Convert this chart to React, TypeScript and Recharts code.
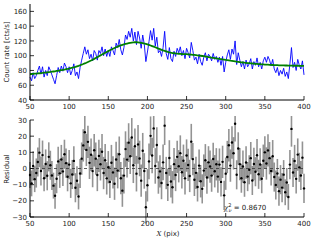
import { ComposedChart, Line, XAxis, YAxis, Scatter, ErrorBar, ReferenceLine } from 'recharts';

// pixel grid of the spectrum (one sample every 2 pix)
const pix = Array.from({ length: 176 }, (_, i) => 50 + 2 * i);

const counts = [
  71, 66, 77, 69, 73, 80, 86, 75, 85, 71, 80, 73, 85, 80, 74, 68, 62, 73, 84, 77,
  86, 79, 90, 85, 77, 85, 74, 80, 89, 73, 78, 69, 84, 94, 103, 112, 102, 108, 96, 102,
  93, 107, 103, 94, 107, 103, 112, 100, 109, 99, 107, 99, 112, 107, 101, 117, 111, 122, 108, 101,
  111, 128, 122, 133, 125, 137, 120, 132, 115, 133, 124, 110, 128, 115, 92, 105, 119, 134, 121, 137,
  113, 125, 104, 107, 99, 111, 133, 103, 95, 111, 96, 92, 106, 99, 110, 104, 112, 100, 107, 96,
  110, 104, 97, 118, 107, 94, 98, 89, 102, 92, 87, 98, 104, 93, 102, 99, 93, 103, 95, 99,
  91, 98, 87, 99, 78, 91, 101, 108, 95, 109, 102, 120, 88, 104, 94, 85, 92, 82, 94, 85,
  89, 96, 82, 92, 87, 97, 85, 91, 82, 93, 98, 91, 99, 94, 86, 95, 82, 77, 84, 73,
  80, 75, 83, 72, 78, 69, 89, 111, 84, 91, 80, 95, 87, 82, 93, 74,
];

const model = [
  75.0, 75.2, 75.4, 75.6, 75.8, 76.0, 76.2, 76.5, 76.7, 77.0, 77.2, 77.5, 77.8, 78.0, 78.3,
  78.6, 78.9, 79.3, 79.6, 80.0, 80.4, 80.8, 81.2, 81.7, 82.1, 82.6, 83.2, 83.7, 84.3, 84.9,
  85.6, 86.3, 87.1, 87.9, 88.7, 89.6, 90.5, 91.5, 92.5, 93.5, 94.6, 95.7, 96.9, 98.0, 99.2,
  100.4, 101.6, 102.8, 103.9, 105.1, 106.2, 107.3, 108.4, 109.4, 110.4, 111.4, 112.3, 113.2, 114.0, 114.7,
  115.4, 116.0, 116.5, 117.0, 117.4, 117.8, 118.0, 118.2, 118.2, 118.1, 117.8, 117.5, 117.0, 116.5, 116.0,
  115.4, 114.6, 113.8, 113.0, 112.2, 111.4, 110.5, 109.6, 108.8, 108.0, 107.2, 106.5, 105.8, 105.1, 104.5,
  104.0, 103.6, 103.3, 103.0, 102.8, 102.6, 102.5, 102.3, 102.2, 102.1, 102.0, 101.8, 101.6, 101.4, 101.2,
  101.0, 100.7, 100.4, 100.2, 99.9, 99.6, 99.3, 98.9, 98.6, 98.2, 97.8, 97.4, 97.1, 96.7, 96.4,
  96.0, 95.6, 95.3, 94.9, 94.6, 94.2, 93.9, 93.6, 93.2, 92.9, 92.6, 92.3, 91.9, 91.6, 91.3,
  91.0, 90.8, 90.5, 90.3, 90.0, 89.8, 89.6, 89.4, 89.2, 89.0, 88.8, 88.6, 88.5, 88.3, 88.2,
  88.0, 87.9, 87.8, 87.6, 87.5, 87.4, 87.3, 87.2, 87.1, 87.0, 86.9, 86.8, 86.8, 86.7, 86.7,
  86.6, 86.6, 86.5, 86.5, 86.4, 86.4, 86.4, 86.3, 86.3, 86.3, 86.3,
];

const countErr = [
  8, 8, 9, 8, 9, 9, 9, 9, 9, 8, 9, 9, 9, 9, 9, 8, 8, 9, 9, 9,
  9, 9, 9, 9, 9, 9, 9, 9, 9, 9, 9, 8, 9, 10, 10, 11, 10, 10, 10, 10,
  10, 10, 10, 10, 10, 10, 11, 10, 10, 10, 10, 10, 11, 10, 10, 11, 11, 11, 10, 10,
  11, 11, 11, 12, 11, 12, 11, 11, 11, 12, 11, 10, 11, 11, 10, 10, 11, 12, 11, 12,
  11, 11, 10, 10, 10, 11, 12, 10, 10, 11, 10, 10, 10, 10, 10, 10, 11, 10, 10, 10,
  10, 10, 10, 11, 10, 10, 10, 9, 10, 10, 9, 10, 10, 10, 10, 10, 10, 10, 10, 10,
  10, 10, 9, 10, 9, 10, 10, 10, 10, 10, 10, 11, 9, 10, 10, 9, 10, 9, 10, 9,
  9, 10, 9, 10, 9, 10, 9, 10, 9, 10, 10, 10, 10, 10, 9, 10, 9, 9, 9, 9,
  9, 9, 9, 8, 9, 8, 9, 11, 9, 10, 9, 10, 9, 9, 10, 9,
];

const xTicks = [50, 100, 150, 200, 250, 300, 350, 400];
const rateTicks = [40, 60, 80, 100, 120, 140, 160];
const residTicks = [-30, -20, -10, 0, 10, 20, 30];
const chi2 = '0.8670';

const rateData = pix.map((x, i) => ({ x, counts: counts[i], model: model[i] }));
const residData = pix.map((x, i) => ({
  x,
  resid: Math.round((counts[i] - model[i]) * 10) / 10,
  err: countErr[i],
}));

const FONT = 'DejaVu Sans, sans-serif';
const FS = 7;

const bottomTick = (p: any) => (
  <g>
    <line x1={p.x} x2={p.x} y1={p.y} y2={p.y - 4} stroke="#000" strokeWidth={0.8} />
    <text x={p.x} y={p.y + 9} textAnchor="middle" fontSize={FS} fontFamily={FONT} fill="#222">
      {p.payload.value}
    </text>
  </g>
);
const topTick = (p: any) => (
  <line x1={p.x} x2={p.x} y1={p.y} y2={p.y + 4} stroke="#000" strokeWidth={0.8} />
);
const leftTick = (p: any) => (
  <g>
    <line x1={p.x} x2={p.x + 4} y1={p.y} y2={p.y} stroke="#000" strokeWidth={0.8} />
    <text x={p.x - 3} y={p.y + 2.6} textAnchor="end" fontSize={FS} fontFamily={FONT} fill="#222">
      {p.payload.value < 0 ? '\u2212' + Math.abs(p.payload.value) : p.payload.value}
    </text>
  </g>
);
const rightTick = (p: any) => (
  <line x1={p.x} x2={p.x - 4} y1={p.y} y2={p.y} stroke="#000" strokeWidth={0.8} />
);

const dot = (p: any) => <circle cx={p.cx} cy={p.cy} r={1.2} fill="#000" />;

export default function App() {
  const axisLine = { stroke: '#000', strokeWidth: 1 };
  return (
    <div style={{ position: 'absolute', left: 0, top: 0, width: 312, height: 240, background: '#fff' }}>
      <div style={{ position: 'absolute', left: 0, top: 0 }}>
        <ComposedChart width={312} height={112} data={rateData} margin={{ top: 4, right: 8, bottom: 0, left: 0 }}>
          <XAxis dataKey="x" type="number" domain={[50, 400]} ticks={xTicks} interval={0}
            tickSize={0} tickMargin={0} height={12} axisLine={axisLine} tick={bottomTick} />
          <XAxis xAxisId="top" orientation="top" dataKey="x" type="number" domain={[50, 400]} ticks={xTicks}
            interval={0} tickSize={0} tickMargin={0} height={0} axisLine={axisLine} tick={topTick} />
          <YAxis type="number" domain={[40, 170]} ticks={rateTicks} interval={0} allowDataOverflow
            tickSize={0} tickMargin={0} width={30} axisLine={axisLine} tick={leftTick} />
          <YAxis yAxisId="r" orientation="right" type="number" domain={[40, 170]} ticks={rateTicks}
            interval={0} tickSize={0} tickMargin={0} width={0} axisLine={axisLine} tick={rightTick} />
          <Line dataKey="counts" type="linear" stroke="#0000ff" strokeWidth={0.9} dot={false} isAnimationActive={false} />
          <Line dataKey="model" type="linear" stroke="#008000" strokeWidth={1.8} dot={false} isAnimationActive={false} />
        </ComposedChart>
      </div>
      <div style={{ position: 'absolute', left: 0, top: 116 }}>
        <ComposedChart width={312} height={113} data={residData} margin={{ top: 4, right: 8, bottom: 0, left: 0 }}>
          <XAxis dataKey="x" type="number" domain={[50, 400]} ticks={xTicks} interval={0}
            tickSize={0} tickMargin={0} height={12} axisLine={axisLine} tick={bottomTick} />
          <XAxis xAxisId="top" orientation="top" dataKey="x" type="number" domain={[50, 400]} ticks={xTicks}
            interval={0} tickSize={0} tickMargin={0} height={0} axisLine={axisLine} tick={topTick} />
          <YAxis type="number" domain={[-30, 30]} ticks={residTicks} interval={0} allowDataOverflow
            tickSize={0} tickMargin={0} width={30} axisLine={axisLine} tick={leftTick} />
          <YAxis yAxisId="r" orientation="right" type="number" domain={[-30, 30]} ticks={residTicks}
            interval={0} tickSize={0} tickMargin={0} width={0} axisLine={axisLine} tick={rightTick} />
          <ReferenceLine y={0} stroke="#333" strokeDasharray="3 3" strokeWidth={0.8} />
          <Scatter dataKey="resid" shape={dot} isAnimationActive={false}>
            <ErrorBar dataKey="err" direction="y" width={0} stroke="#3a3a3a" strokeOpacity={0.55} strokeWidth={1.6} />
          </Scatter>
        </ComposedChart>
      </div>
      <svg width={312} height={240} style={{ position: 'absolute', left: 0, top: 0, pointerEvents: 'none' }}>
        <text x={9} y={52} transform="rotate(-90 9 52)" textAnchor="middle" fontSize={FS} fontFamily={FONT} fill="#222">
          Count rate [cts/s]
        </text>
        <text x={8.5} y={169} transform="rotate(-90 8.5 169)" textAnchor="middle" fontSize={FS} fontFamily={FONT} fill="#222">
          Residual
        </text>
        <text x={168} y={236} textAnchor="middle" fontSize={FS} fontFamily={FONT} fill="#222">
          <tspan fontFamily="DejaVu Serif, serif" fontStyle="italic">X</tspan> (pix)
        </text>
        <text x={224} y={210} fontSize={FS} fontFamily={FONT} fill="#222">
          <tspan fontFamily="DejaVu Serif, serif" fontStyle="italic">χ</tspan>
          <tspan fontSize={5} dy={-3}>2</tspan>
          <tspan fontSize={5} dx={-3} dy={5} fontFamily="DejaVu Serif, serif" fontStyle="italic">ν</tspan>
          <tspan dy={-2}> = {chi2}</tspan>
        </text>
      </svg>
    </div>
  );
}
